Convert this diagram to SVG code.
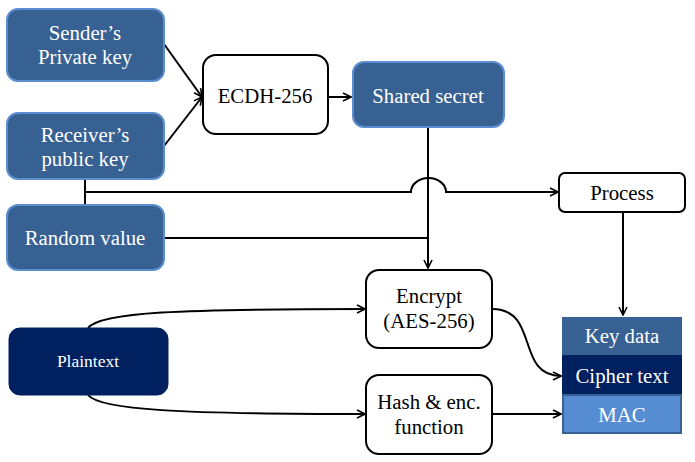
<svg xmlns="http://www.w3.org/2000/svg" width="695" height="462" viewBox="0 0 695 462">
<defs>
<marker id="arr" viewBox="0 0 10 10" refX="9" refY="5" markerWidth="10" markerHeight="10" markerUnits="userSpaceOnUse" orient="auto">
<path d="M1,1 L9,5 L1,9" fill="none" stroke="#000" stroke-width="1.6"/>
</marker>
<style>
.blue{fill:#386193;stroke:#5b8ed0;stroke-width:2}
.navy{fill:#002060;stroke:#002060;stroke-width:1}
.white{fill:#fff;stroke:#000;stroke-width:2}
.t{font-family:'Liberation Serif',serif;font-size:20.8px;text-anchor:middle}
.tw{fill:#fff}
.tb{fill:#000}
.c{fill:none;stroke:#000;stroke-width:2}
</style>
</defs>
<g id="connectors">
<path class="c" d="M164,44 L202,97" marker-end="url(#arr)"/>
<path class="c" d="M164,146 L202,97" marker-end="url(#arr)"/>
<path class="c" d="M328,97 L351,97" marker-end="url(#arr)"/>
<path class="c" d="M428,127 L428,268" marker-end="url(#arr)"/>
<path class="c" d="M85,179 L85,205"/>
<path class="c" d="M85,192 H411 A17.5,14 0 0 1 446,192 H558" marker-end="url(#arr)"/>
<path class="c" d="M164,238 H428"/>
<path class="c" d="M623,212 L623,315" marker-end="url(#arr)"/>
<path class="c" d="M88,328 C100,312 180,309 365,309" marker-end="url(#arr)"/>
<path class="c" d="M88,395 C100,410 180,414 365,414" marker-end="url(#arr)"/>
<path class="c" d="M492,309 C540,309 515,376 561,376" marker-end="url(#arr)"/>
<path class="c" d="M492,414 L561,414" marker-end="url(#arr)"/>
</g>
<g id="sender">
<rect class="blue" x="7" y="9" width="157" height="72" rx="11"/>
<text class="t tw" x="85" y="40">Sender’s</text>
<text class="t tw" x="85" y="64">Private key</text>
</g>
<g id="receiver">
<rect class="blue" x="7" y="113" width="157" height="66" rx="11"/>
<text class="t tw" x="85" y="142">Receiver’s</text>
<text class="t tw" x="85" y="166">public key</text>
</g>
<g id="random">
<rect class="blue" x="7" y="205" width="157" height="65" rx="11"/>
<text class="t tw" x="85" y="245">Random value</text>
</g>
<g id="ecdh">
<rect class="white" x="203" y="55" width="125" height="79" rx="13"/>
<text class="t tb" x="265" y="103">ECDH-256</text>
</g>
<g id="shared">
<rect class="blue" x="353" y="62" width="151" height="65" rx="11"/>
<text class="t tw" x="428" y="103">Shared secret</text>
</g>
<g id="process">
<rect class="white" x="559" y="173" width="126" height="39" rx="6"/>
<text class="t tb" x="622" y="200">Process</text>
</g>
<g id="encrypt">
<rect class="white" x="366" y="270" width="126" height="78" rx="13"/>
<text class="t tb" x="429" y="303">Encrypt</text>
<text class="t tb" x="429" y="328">(AES-256)</text>
</g>
<g id="hash">
<rect class="white" x="366" y="375" width="126" height="79" rx="13"/>
<text class="t tb" x="429" y="409">Hash &amp; enc.</text>
<text class="t tb" x="429" y="434">function</text>
</g>
<g id="plaintext">
<rect class="navy" x="9" y="328" width="159" height="67" rx="11"/>
<text class="t tw" x="88" y="367" style="font-size:17.5px">Plaintext</text>
</g>
<g id="packet">
<rect x="562" y="317" width="120" height="38" fill="#386193"/>
<text class="t tw" x="622" y="343">Key data</text>
<rect x="562" y="355" width="120" height="39" fill="#002060"/>
<text class="t tw" x="622" y="383">Cipher text</text>
<rect x="563" y="395" width="118" height="38" fill="#568dd2" stroke="#386193" stroke-width="2"/>
<text class="t tw" x="622" y="422">MAC</text>
</g>
</svg>
